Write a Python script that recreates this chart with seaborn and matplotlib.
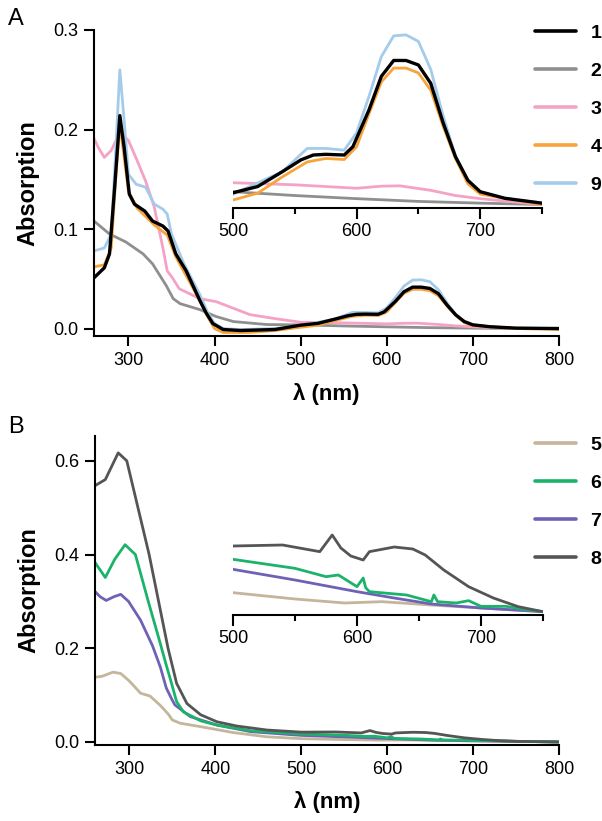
import seaborn as sns
import matplotlib
matplotlib.use("Agg")
from matplotlib import pyplot as plt
from matplotlib.lines import Line2D
from matplotlib.ticker import MultipleLocator, FormatStrFormatter

# ---- panel A data (wavelength nm, absorption) ----
wl_1 = [260, 272, 278, 284, 290, 295, 301, 307, 319, 328, 340, 346, 355, 367, 383, 390, 398, 410, 430, 470,
        500, 520, 540, 555, 565, 575, 590, 597, 610, 620, 630, 640, 650, 660, 670, 680, 690, 700, 720, 750, 800]
abs_1 = [0.051, 0.061, 0.075, 0.142, 0.214, 0.182, 0.135, 0.125, 0.118, 0.108, 0.103, 0.098, 0.075, 0.058, 0.028,
         0.016, 0.005, -0.001, -0.002, -0.001, 0.0034, 0.0052, 0.0095, 0.0129, 0.0143, 0.0145, 0.0143, 0.0167,
         0.0273, 0.037, 0.0416, 0.0416, 0.0403, 0.035, 0.0236, 0.0138, 0.007, 0.0037, 0.0018, 0.0004, 0.0]

wl_2 = [260, 278, 297, 317, 328, 344, 352, 360, 383, 402, 422, 461, 500, 550, 600, 650, 700, 750, 800]
abs_2 = [0.108, 0.095, 0.087, 0.075, 0.065, 0.043, 0.030, 0.025, 0.019, 0.012, 0.007, 0.004, 0.0037, 0.0026,
         0.0017, 0.0009, 0.0004, 0.0, 0.0]

wl_3 = [260, 265, 272, 280, 290, 300, 310, 320, 330, 340, 345, 351, 359, 383, 402, 441, 470, 500, 550, 600,
        620, 635, 660, 680, 700, 720, 750, 800]
abs_3 = [0.191, 0.182, 0.172, 0.179, 0.197, 0.189, 0.169, 0.148, 0.122, 0.081, 0.058, 0.051, 0.040, 0.030, 0.027,
         0.014, 0.010, 0.0063, 0.0057, 0.0047, 0.0053, 0.0054, 0.0041, 0.0026, 0.0017, 0.001, 0.0, 0.0]

wl_4 = [260, 272, 280, 285, 290, 300, 310, 330, 345, 355, 383, 392, 400, 410, 440, 470, 500, 520, 540, 560,
        575, 590, 600, 610, 620, 630, 640, 650, 660, 670, 680, 690, 700, 750, 800]
abs_4 = [0.062, 0.064, 0.081, 0.148, 0.206, 0.138, 0.121, 0.104, 0.094, 0.072, 0.028, 0.012, 0.0, -0.004, -0.004,
         -0.002, 0.0013, 0.0033, 0.008, 0.0123, 0.0133, 0.013, 0.0167, 0.0262, 0.0354, 0.0394, 0.0394, 0.038,
         0.033, 0.0226, 0.0133, 0.006, 0.003, 0.0, -0.001]

wl_9 = [260, 272, 280, 285, 290, 295, 300, 309, 320, 330, 340, 345, 350, 365, 383, 392, 400, 410, 430, 470,
        500, 540, 560, 575, 590, 600, 610, 620, 630, 640, 650, 660, 670, 680, 690, 700, 720, 750, 800]
abs_9 = [0.078, 0.081, 0.095, 0.175, 0.26, 0.209, 0.155, 0.145, 0.142, 0.125, 0.12, 0.115, 0.095, 0.064, 0.034,
         0.016, 0.005, 0.0, -0.001, 0.0, 0.003, 0.0095, 0.0162, 0.0162, 0.0157, 0.0207, 0.0312, 0.0427, 0.0487,
         0.049, 0.0471, 0.039, 0.0256, 0.014, 0.007, 0.0037, 0.0018, 0.0004, 0.0]

# ---- panel B data ----
wl_5 = [260, 268, 281, 290, 300, 313, 324, 336, 345, 350, 359, 383, 421, 460, 500, 550, 590, 620, 660, 700, 750, 800]
abs_5 = [0.138, 0.14, 0.149, 0.146, 0.13, 0.104, 0.098, 0.078, 0.06, 0.047, 0.04, 0.0326, 0.02, 0.011, 0.007,
         0.0051, 0.0039, 0.0043, 0.0033, 0.0024, 0.0013, 0.0]

wl_6 = [260, 272, 283, 295, 307, 322, 336, 342, 348, 355, 363, 383, 402, 441, 500, 550, 575, 585, 600, 605,
        607, 610, 640, 660, 662, 665, 680, 690, 700, 720, 735, 750, 800]
abs_6 = [0.383, 0.351, 0.39, 0.421, 0.4, 0.3, 0.21, 0.17, 0.132, 0.086, 0.064, 0.045, 0.036, 0.024, 0.017, 0.0143,
         0.0118, 0.0123, 0.0088, 0.0114, 0.0085, 0.0073, 0.0063, 0.0043, 0.0063, 0.0043, 0.0039, 0.0046, 0.0029,
         0.0029, 0.002, 0.0013, 0.0]

wl_7 = [260, 266, 273, 282, 290, 299, 313, 327, 336, 343, 350, 353, 371, 402, 441, 500, 550, 600, 630, 660, 700,
        750, 800]
abs_7 = [0.321, 0.31, 0.302, 0.31, 0.315, 0.30, 0.26, 0.205, 0.16, 0.115, 0.089, 0.079, 0.054, 0.036, 0.022, 0.014,
         0.0108, 0.0073, 0.0054, 0.0036, 0.0024, 0.0013, 0.0]

wl_8 = [260, 272, 287, 297, 310, 323, 334, 345, 355, 367, 383, 402, 425, 460, 500, 540, 570, 580, 587, 595, 605,
        610, 630, 645, 655, 670, 690, 710, 730, 750, 800]
abs_8 = [0.547, 0.56, 0.617, 0.6, 0.5, 0.4, 0.3, 0.2, 0.125, 0.082, 0.058, 0.043, 0.034, 0.0255, 0.021, 0.0213,
         0.0193, 0.0243, 0.0204, 0.018, 0.0168, 0.0193, 0.0207, 0.0201, 0.0183, 0.0138, 0.0088, 0.0054, 0.0028,
         0.0013, 0.0]

series_a = [("2", wl_2, abs_2, "#8f8f8f", 2.0), ("3", wl_3, abs_3, "#f4a3c6", 2.0),
            ("9", wl_9, abs_9, "#a5cbeb", 2.0), ("4", wl_4, abs_4, "#f7a43c", 2.0),
            ("1", wl_1, abs_1, "#000000", 2.4)]
legend_a = ["1", "2", "3", "4", "9"]
series_b = [("5", wl_5, abs_5, "#c4b59b", 2.0), ("7", wl_7, abs_7, "#6f62b6", 2.0),
            ("6", wl_6, abs_6, "#1bb36b", 2.0), ("8", wl_8, abs_8, "#555555", 2.0)]
legend_b = ["5", "6", "7", "8"]

sns.set_theme(style="ticks")
plt.rcParams['font.family'] = ['Liberation Sans', 'DejaVu Sans']
plt.rcParams.update({'axes.linewidth': 1.5, 'axes.edgecolor': 'black', 'axes.labelcolor': 'black',
                     'text.color': 'black', 'xtick.color': 'black', 'ytick.color': 'black'})

W, H = 602, 821
fig = plt.figure(figsize=(W / 100, H / 100), dpi=100)


def px_axes(l, t, r, b):
    return fig.add_axes([l / W, 1 - b / H, (r - l) / W, (b - t) / H])


def style_main(ax, ylim, ystep):
    ax.set_xlim(260, 800)
    ax.set_ylim(*ylim)
    ax.yaxis.set_major_locator(MultipleLocator(ystep))
    ax.set_xticks([300, 400, 500, 600, 700, 800])
    ax.yaxis.set_major_formatter(FormatStrFormatter('%.1f'))
    sns.despine(ax=ax)
    ax.tick_params(direction='out', length=7.5, width=1.5, labelsize=13, pad=4)
    ax.set_xlabel("λ (nm)", fontsize=16, fontweight='bold')
    ax.set_ylabel("Absorption", fontsize=17, fontweight='bold')
    ax.yaxis.set_label_coords(-0.118, 0.5)


def style_inset(ax, ylim):
    ax.set_facecolor('none')
    ax.set_xlim(500, 750)
    ax.set_ylim(*ylim)
    for s in ['left', 'top', 'right']:
        ax.spines[s].set_visible(False)
    ax.set_yticks([])
    ax.set_xticks([500, 600, 700])
    ax.set_xticks([550, 650, 750], minor=True)
    ax.tick_params(axis='x', which='major', direction='out', length=8, width=1.5, labelsize=13, pad=3)
    ax.tick_params(axis='x', which='minor', direction='out', length=4, width=1.5)
    ax.set_xlabel("")
    ax.set_ylabel("")


def draw(ax, series):
    for name, wl, ab, col, lw in series:
        sns.lineplot(x=wl, y=ab, ax=ax, color=col, lw=lw, legend=False)


def add_legend(series, order, left, top):
    lookup = {s[0]: s for s in series}
    handles = [Line2D([0], [0], color=lookup[k][3], lw=2.6) for k in order]
    fig.legend(handles, order, loc='upper left', bbox_to_anchor=(left / W, 1 - top / H),
               frameon=False, borderpad=0, borderaxespad=0, handlelength=2.1, handletextpad=0.75,
               labelspacing=1.05, prop={'size': 14, 'weight': 'bold'})


# Panel A
axA = px_axes(94, 30, 559, 336)
draw(axA, series_a)
style_main(axA, (-0.0075, 0.3), 0.1)
axA.xaxis.set_label_coords(0.5, -0.152)
insA = px_axes(233, 30, 542, 208)
draw(insA, series_a)
style_inset(insA, (-0.001, 0.0504))
add_legend(series_a, legend_a, 535, 24)
fig.text(8 / W, 1 - 19 / H, "A", fontsize=17, va='center', ha='left')

# Panel B
axB = px_axes(95, 436, 559, 745)
draw(axB, series_b)
style_main(axB, (-0.0065, 0.653), 0.2)
axB.xaxis.set_label_coords(0.5, -0.148)
insB = px_axes(233, 525, 543, 615)
draw(insB, series_b)
style_inset(insB, (0.0003, 0.0273))
add_legend(series_b, legend_b, 535, 436)
fig.text(8 / W, 1 - 427 / H, "B", fontsize=17, va='center', ha='left')

fig.savefig("out.png", dpi=100)
